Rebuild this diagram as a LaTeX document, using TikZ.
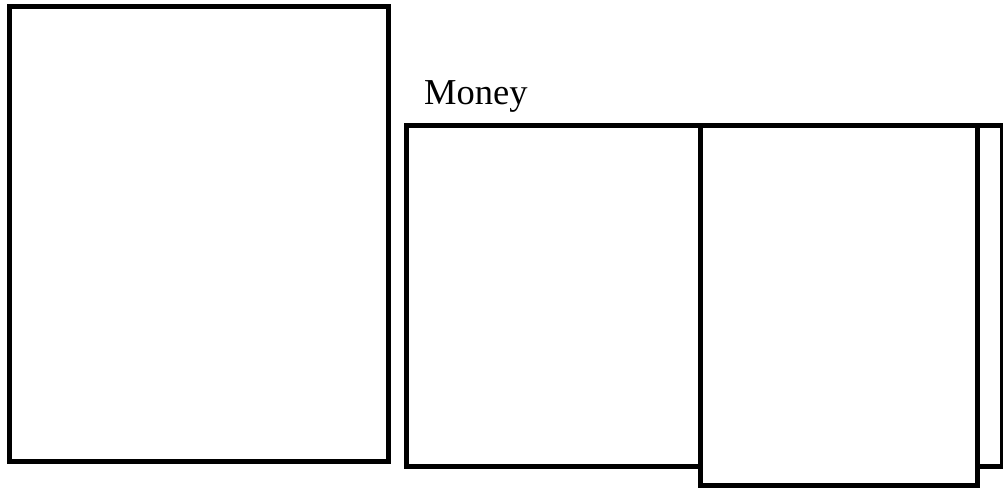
\documentclass[tikz,border=0pt]{standalone}
\usepackage{fontspec}
\setmainfont{Liberation Serif}
\begin{document}
\begin{tikzpicture}[x=1pt,y=-1pt,
  panel/.style={draw=black, line width=5pt, fill=white, inner sep=0pt, outer sep=0pt, rectangle}]
\useasboundingbox (0,0) rectangle (1003,490);
\node[panel, minimum width=378.5pt, minimum height=455pt] (left) at (198.75,234) {};
\node[panel, minimum width=596pt, minimum height=341.5pt] (big) at (704.5,295.75) {};
\node[panel, minimum width=277.5pt, minimum height=360.5pt] (over) at (838.75,305.25) {};
\node[anchor=base west, inner sep=0pt, font=\fontsize{36.5pt}{42pt}\selectfont] (money) at (424,104) {Money};
\end{tikzpicture}
\end{document}
